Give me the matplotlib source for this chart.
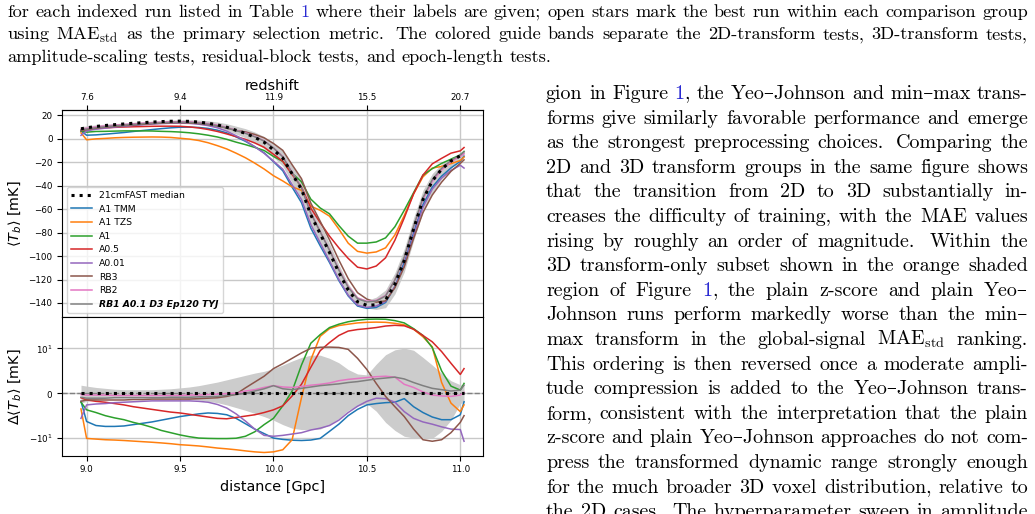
import re
import numpy as np
import matplotlib
matplotlib.use('Agg')
import matplotlib.pyplot as plt
from matplotlib.ticker import NullLocator

W, H = 1035, 514

# ---- chart data ----
distance = [8.97, 9.00, 9.05, 9.10, 9.15, 9.20, 9.25, 9.30, 9.35, 9.40, 9.45,
            9.50, 9.55, 9.60, 9.65, 9.70, 9.75, 9.80, 9.85, 9.90, 9.95, 10.00,
            10.05, 10.10, 10.15, 10.20, 10.25, 10.30, 10.35, 10.40, 10.45, 10.50,
            10.55, 10.60, 10.65, 10.70, 10.75, 10.80, 10.85, 10.90, 10.95, 11.00, 11.02]
redshift_ticks = [9.0, 9.5, 10.0, 10.5, 11.0]
redshift_labels = ['7.6', '9.4', '11.9', '15.5', '20.7']

median = [8.5, 9.3, 10.5, 11.3, 12.0, 12.6, 13.2, 13.7, 14.2, 14.6, 14.9,
          15.0, 14.8, 14.2, 13.2, 11.8, 9.8, 7.2, 4.6, 1.2, -3.0, -9.5,
          -16.5, -30.0, -43.0, -65.0, -81.0, -97.0, -114.0, -129.0, -139.0, -142.0,
          -141.5, -137.5, -124.0, -104.0, -77.0, -52.0, -36.0, -26.0, -19.0, -14.5, -13.0]
std_hi = [1.8, 1.6, 1.3, 1.1, 0.9, 0.8, 0.8, 0.8, 0.8, 0.9, 1.0,
          1.2, 1.4, 1.7, 2.1, 2.5, 3.0, 3.5, 4.0, 4.5, 4.9, 5.5,
          6.3, 7.2, 8.0, 8.5, 8.5, 7.8, 6.8, 5.3, 4.3, 4.1,
          6.5, 8.6, 9.7, 10.2, 9.6, 8.0, 6.3, 4.5, 2.8, 1.9, 1.8]
std_lo = [-2.2, -1.8, -1.4, -1.1, -0.9, -0.8, -0.8, -0.8, -0.8, -0.9, -1.0,
          -1.1, -1.3, -1.5, -1.8, -2.1, -2.6, -3.2, -3.8, -4.5, -5.2, -6.0,
          -7.0, -7.8, -8.1, -8.1, -8.0, -7.0, -5.6, -3.8, -2.8, -2.3,
          -4.0, -6.5, -8.3, -9.6, -10.0, -10.2, -10.2, -8.5, -6.0, -2.3, -2.0]

# residuals of each run with respect to the median [mK]
d_a1_tmm = [-1.8, -6.3, -7.2, -7.4, -7.4, -7.3, -7.0, -6.7, -6.4, -6.0, -5.6,
            -5.2, -4.9, -4.6, -4.4, -4.5, -4.8, -5.6, -6.8, -8.0, -9.0, -10.0,
            -10.8, -11.3, -11.5, -11.2, -10.2, -8.5, -6.9, -5.0, -3.6, -2.6,
            -2.3, -2.1, -2.0, -1.2, -3.0, -4.3, -5.3, -5.9, -5.9, -4.8, -1.9]
d_a1_tzs = [-3.5, -10.2, -10.6, -11.0, -11.2, -11.5, -11.9, -12.3, -12.7, -13.2, -13.8,
            -14.6, -15.1, -15.7, -16.6, -17.7, -18.5, -19.5, -20.8, -22.0, -22.8, -22.0,
            -19.5, -11.0, -1.0, 7.5, 20.0, 31.0, 37.0, 40.0, 43.0, 44.5,
            45.0, 44.5, 42.0, 38.5, 30.0, 19.5, 11.0, 2.4, -2.2, -4.1, -2.6]
d_a1 = [-2.0, -3.7, -4.3, -5.0, -5.5, -5.9, -6.5, -7.0, -7.6, -8.3, -8.8,
        -9.3, -9.7, -10.0, -10.2, -10.3, -10.3, -10.1, -9.6, -8.6, -7.0, -5.6,
        -2.8, 0.5, 6.3, 13.5, 22.0, 33.0, 40.0, 46.0, 50.0, 53.0,
        53.5, 53.0, 49.0, 43.0, 31.0, 21.0, 10.5, 5.0, 1.6, 0.7, 2.2]
d_a05 = [-1.0, -1.5, -1.8, -2.0, -2.3, -2.6, -3.0, -3.3, -3.6, -3.9, -4.2,
         -4.4, -4.7, -5.0, -5.3, -5.6, -5.7, -5.4, -5.1, -4.8, -4.3, -3.7,
         -2.8, -0.6, 2.0, 5.8, 9.5, 14.0, 21.0, 27.0, 29.5, 31.0,
         33.0, 36.0, 37.5, 36.5, 30.0, 21.0, 14.6, 9.3, 6.7, 4.2, 5.5]
d_a001 = [-5.6, -2.6, -2.4, -2.3, -2.1, -2.0, -1.9, -1.8, -1.7, -1.7, -1.7,
          -1.7, -1.7, -1.8, -2.0, -2.5, -3.3, -4.6, -6.2, -8.0, -9.4, -9.6,
          -9.4, -9.1, -8.8, -8.2, -7.8, -7.2, -6.0, -4.3, -2.9, -1.8,
          -1.1, -1.2, -2.0, -4.1, -5.6, -6.4, -6.9, -7.5, -8.0, -8.1, -12.0]
d_rb3 = [-1.8, -1.5, -1.5, -1.5, -1.5, -1.5, -1.4, -1.4, -1.3, -1.3, -1.3,
         -1.3, -1.3, -1.2, -1.1, -1.0, -0.7, -0.2, 1.2, 2.5, 3.8, 5.5,
         6.6, 7.8, 9.0, 10.1, 10.7, 10.8, 10.6, 9.8, 7.8, 5.3,
         2.2, -0.7, -3.0, -5.2, -8.0, -11.0, -12.0, -11.0, -8.8, -6.5, -5.0]
d_rb2 = [-0.3, -0.4, -0.4, -0.4, -0.5, -0.5, -0.5, -0.5, -0.5, -0.5, -0.5,
         -0.5, -0.4, -0.4, -0.3, -0.2, -0.1, 0.0, 0.5, 0.8, 1.3, 1.7,
         1.4, 1.3, 1.5, 1.8, 2.0, 2.3, 2.8, 3.1, 3.3, 3.5,
         3.7, 3.8, 3.6, 2.0, 1.3, 0.3, -0.4, -0.6, -0.7, -0.4, 0.2]
d_rb1 = [-0.9, -1.1, -1.1, -1.1, -1.0, -1.0, -1.0, -1.0, -1.0, -1.0, -0.9,
         -0.9, -0.9, -0.8, -0.8, -0.7, -0.5, -0.3, 0.0, 0.5, 1.0, 1.7,
         1.0, 0.8, 1.1, 1.4, 1.7, 1.9, 2.1, 2.4, 2.6, 2.9,
         3.2, 3.4, 3.6, 3.2, 2.4, 1.7, 1.1, 0.8, 0.5, 0.7, 1.8]

runs = [('A1 TMM', 'tab:blue', d_a1_tmm),
        ('A1 TZS', 'tab:orange', d_a1_tzs),
        ('A1', 'tab:green', d_a1),
        ('A0.5', 'tab:red', d_a05),
        ('A0.01', 'tab:purple', d_a001),
        ('RB3', 'tab:brown', d_rb3),
        ('RB2', 'tab:pink', d_rb2),
        ('RB1 A0.1 D3 Ep120 TYJ', 'tab:gray', d_rb1)]

# ---- surrounding page text ----
CAPTION = [
    "for each indexed run listed in Table [1] where their labels are given; open stars mark the best run within each comparison group",
    "using MAE$_\\mathrm{std}$ as the primary selection metric.  The colored guide bands separate the 2D-transform tests, 3D-transform tests,",
    "amplitude-scaling tests, residual-block tests, and epoch-length tests.",
]
BODY = [
    "gion in Figure [1], the Yeo\u2013Johnson and min\u2013max trans-",
    "forms give similarly favorable performance and emerge",
    "as the strongest preprocessing choices.  Comparing the",
    "2D and 3D transform groups in the same figure shows",
    "that the transition from 2D to 3D substantially in-",
    "creases the difficulty of training, with the MAE values",
    "rising by roughly an order of magnitude.  Within the",
    "3D transform-only subset shown in the orange shaded",
    "region of Figure [1], the plain z-score and plain Yeo\u2013",
    "Johnson runs perform markedly worse than the min\u2013",
    "max transform in the global-signal MAE$_\\mathrm{std}$ ranking.",
    "This ordering is then reversed once a moderate ampli-",
    "tude compression is added to the Yeo\u2013Johnson trans-",
    "form, consistent with the interpretation that the plain",
    "z-score and plain Yeo\u2013Johnson approaches do not com-",
    "press the transformed dynamic range strongly enough",
    "for the much broader 3D voxel distribution, relative to",
    "the 2D cases.  The hyperparameter sweep in amplitude",
]

SERIF = ['cmr10', 'DejaVu Serif']
LINK = '#2a2ad2'
TICK = 6.3
LABEL = 10.4

fig = plt.figure(figsize=(W / 100, H / 100), dpi=100)
ax1 = fig.add_axes([0.0602, 0.3827, 0.4062, 0.4033])
ax2 = fig.add_axes([0.0602, 0.1134, 0.4062, 0.2693], sharex=ax1)

med = np.array(median)
lo = np.array(std_lo)
hi = np.array(std_hi)

# upper panel: global signal
ax1.fill_between(distance, med + lo, med + hi, color='0.8', lw=0)
ax1.plot(distance, median, ':', color='k', lw=2.2, label='21cmFAST median', zorder=5)
for label, color, delta in runs:
    ax1.plot(distance, med + np.array(delta), color=color, lw=1.1, label=label)

ax1.set_xlim(8.87, 11.12)
ax1.set_ylim(-152.2, 24.5)
ax1.set_xticks(redshift_ticks)
ax1.tick_params(labelbottom=False, labelsize=TICK)
ax1.grid(True, color='#c8c8c8', lw=1.0)
ax1.set_ylabel(r'$\langle T_b\rangle$ [mK]', fontsize=LABEL)

secax = ax1.secondary_xaxis('top')
secax.set_xticks(redshift_ticks, labels=redshift_labels)
secax.tick_params(labelsize=TICK, pad=2.5)
secax.set_xlabel('redshift', fontsize=LABEL, labelpad=2)

leg = ax1.legend(loc='lower left', fontsize=6.66, handlelength=2.3, labelspacing=0.5)
leg.get_texts()[-1].set_fontweight('bold')
leg.get_texts()[-1].set_fontstyle('italic')

# lower panel: residuals
ax2.fill_between(distance, lo, hi, color='0.8', lw=0)
ax2.axhline(0, color='gray', ls='--', lw=1.0)
ax2.plot(distance, np.zeros(len(distance)), ':', color='k', lw=2.2, zorder=5)
for label, color, delta in runs:
    ax2.plot(distance, delta, color=color, lw=1.1)
ax2.set_yscale('symlog', linthresh=10)
ax2.set_ylim(-27.4, 59.3)
ax2.yaxis.set_minor_locator(NullLocator())
ax2.tick_params(labelsize=TICK)
ax2.grid(True, color='#c8c8c8', lw=1.0)
ax2.set_xlabel('distance [Gpc]', fontsize=LABEL)
ax2.set_ylabel(r'$\Delta\langle T_b\rangle$ [mK]', fontsize=LABEL)
fig.align_ylabels([ax1, ax2])

renderer = fig.canvas.get_renderer()


def text_line(line, x0, x1, ybase, size, justify=True):
    em = size / 72 * 100
    words = []
    for w in line.split():
        segs = []
        for part in re.split(r'(\[[^\]]*\])', w):
            if not part:
                continue
            blue = part.startswith('[')
            s = part[1:-1] if blue else part
            t = fig.text(0, 0, s, fontsize=size, family=SERIF, math_fontfamily='cm',
                         color=LINK if blue else 'black', ha='left', va='baseline')
            segs.append((t, t.get_window_extent(renderer).width))
        words.append((w, segs))
    widths = [sum(sw for _, sw in segs) for _, segs in words]
    # tex-like glue: bigger space and stretch after a sentence
    nat, stretch = [], []
    for w, _ in words[:-1]:
        if w.endswith('.'):
            nat.append(0.444 * em)
            stretch.append(0.5 * em)
        else:
            nat.append(0.333 * em)
            stretch.append(0.167 * em)
    if justify and len(words) > 1:
        ratio = (x1 - x0 - sum(widths) - sum(nat)) / sum(stretch)
    else:
        ratio = 0.0
    x = x0
    for i, (w, segs) in enumerate(words):
        for t, sw in segs:
            t.set_position((x / W, 1 - ybase / H))
            x += sw
        if i < len(nat):
            x += nat[i] + stretch[i] * ratio


for i, line in enumerate(CAPTION):
    text_line(line, 7, 1028, 16.8 + 22.6 * i, 13.2, justify=(i < len(CAPTION) - 1))

for i, line in enumerate(BODY):
    text_line(line, 546, 1028, 99.0 + 24.6 * i, 14.4)

fig.savefig('out.png', dpi=100)
